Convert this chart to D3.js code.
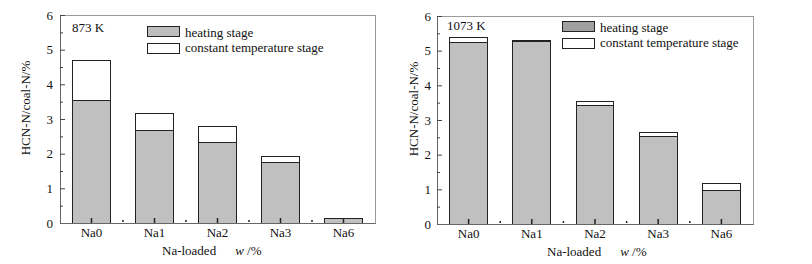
<!DOCTYPE html>
<html>
<head>
<meta charset="utf-8">
<script src="https://cdn.jsdelivr.net/npm/d3@7"></script>
<style>
  body { margin: 0; background: #fff; }
  svg text { font-family: "Liberation Serif", "Times New Roman", serif; font-size: 13px; fill: #111; }
</style>
</head>
<body>
<div id="chart"></div>
<script>
//data
var categories = ["Na0", "Na1", "Na2", "Na3", "Na6"];
var heating873 = [3.53, 2.66, 2.31, 1.75, 0.14];
var constant873 = [1.15, 0.51, 0.46, 0.18, 0.0];
var heating1073 = [5.25, 5.26, 3.43, 2.53, 0.96];
var constant1073 = [0.14, 0.03, 0.11, 0.11, 0.22];
var yTicks = [0, 1, 2, 3, 4, 5, 6];
var yMinorTicks = [0.5, 1.5, 2.5, 3.5, 4.5, 5.5];

var svg = d3.select("#chart").append("svg")
    .attr("width", 812)
    .attr("height", 264);

function drawPanel(p) {
    var g = svg.append("g")
        .attr("transform", "translate(" + p.left + "," + p.top + ")");
    var width = p.width, height = p.height;

    //scales
    var x = d3.scaleBand()
        .domain(categories)
        .range([0, width])
        .paddingInner(0.4)
        .paddingOuter(0.2);
    var y = d3.scaleLinear()
        .domain([0, 6])
        .range([height, 0]);

    //frame
    g.append("rect")
        .attr("width", width)
        .attr("height", height)
        .attr("fill", "none")
        .attr("stroke", "#9a9a9a")
        .attr("shape-rendering", "crispEdges");

    //heating stage bars
    g.append("g")
        .selectAll("rect")
        .data(p.heating)
        .join("rect")
        .attr("x", (d, i) => x(categories[i]))
        .attr("y", (d) => y(d))
        .attr("width", x.bandwidth())
        .attr("height", (d) => y(0) - y(d))
        .attr("fill", "#c0c0c0")
        .attr("stroke", "#222")
        .attr("shape-rendering", "crispEdges");

    //constant temperature stage bars on top
    g.append("g")
        .selectAll("rect")
        .data(p.constant)
        .join("rect")
        .attr("x", (d, i) => x(categories[i]))
        .attr("y", (d, i) => y(p.heating[i] + d))
        .attr("width", x.bandwidth())
        .attr("height", (d) => y(0) - y(d))
        .attr("fill", "#fff")
        .attr("stroke", "#222")
        .attr("shape-rendering", "crispEdges");

    //y axis, ticks pointing inside
    var yAxis = g.append("g")
        .call(d3.axisLeft(y).tickValues(yTicks).tickFormat(d3.format("d"))
            .tickSize(-5).tickSizeOuter(0).tickPadding(p.yPad));
    yAxis.select(".domain").attr("stroke", "#666");
    yAxis.selectAll(".tick line").attr("stroke", "#444");
    g.append("g")
        .call(d3.axisLeft(y).tickValues(yMinorTicks).tickSize(-3).tickFormat(""))
        .call((a) => a.select(".domain").remove())
        .selectAll(".tick line").attr("stroke", "#444");

    //x axis
    var xAxis = g.append("g")
        .attr("transform", "translate(0," + height + ")")
        .call(d3.axisBottom(x).tickSize(-5).tickSizeOuter(0).tickPadding(5));
    xAxis.select(".domain").attr("stroke", "#666");
    xAxis.selectAll(".tick line").attr("stroke", "#222").attr("stroke-width", 1.5);

    //small ticks between categories
    g.append("g")
        .selectAll("line")
        .data(categories.slice(1))
        .join("line")
        .attr("x1", (d) => x(d) - x.step() * x.paddingInner() / 2)
        .attr("x2", (d) => x(d) - x.step() * x.paddingInner() / 2)
        .attr("y1", height - 3)
        .attr("y2", height - 1)
        .attr("stroke", "#222")
        .attr("stroke-width", 1.5);

    g.selectAll(".tick text")
        .attr("font-family", null)
        .style("font-size", "13px");

    //temperature label
    g.append("text")
        .attr("x", p.titleX)
        .attr("y", p.titleY)
        .text(p.title);

    //legend
    var lg = g.append("g")
        .attr("transform", "translate(" + p.legX + "," + p.legY + ")");
    lg.append("rect")
        .attr("width", 32).attr("height", 10)
        .attr("fill", p.legendGray).attr("stroke", "#222")
        .attr("shape-rendering", "crispEdges");
    lg.append("rect")
        .attr("y", 17)
        .attr("width", 32).attr("height", 10)
        .attr("fill", "#fff").attr("stroke", "#222")
        .attr("shape-rendering", "crispEdges");
    lg.append("text").attr("x", 38).attr("y", 11).text("heating stage");
    lg.append("text").attr("x", 38).attr("y", 26).text("constant temperature stage");

    //axis titles
    g.append("text")
        .attr("transform", "translate(" + p.yLabelX + "," + (height / 2 - 11) + ") rotate(-90)")
        .attr("text-anchor", "middle")
        .attr("dy", "0.35em")
        .text("HCN-N/coal-N/%");
    var xt = g.append("text")
        .attr("x", p.xTitleX)
        .attr("y", height + 32);
    xt.append("tspan").text("Na-loaded");
    xt.append("tspan").attr("dx", 19).style("font-style", "italic").text("w");
    xt.append("tspan").text(" /%");
}

drawPanel({left: 60, top: 15, width: 315, height: 208, yPad: 7,
    heating: heating873, constant: constant873, title: "873 K",
    titleX: 12, titleY: 17, legX: 87, legY: 11, legendGray: "#bdbdbd",
    yLabelX: -35, xTitleX: 102});
drawPanel({left: 437, top: 16, width: 316, height: 208, yPad: 6,
    heating: heating1073, constant: constant1073, title: "1073 K",
    titleX: 10, titleY: 14, legX: 125, legY: 5, legendGray: "#a0a0a0",
    yLabelX: -24, xTitleX: 110});
</script>
</body>
</html>
